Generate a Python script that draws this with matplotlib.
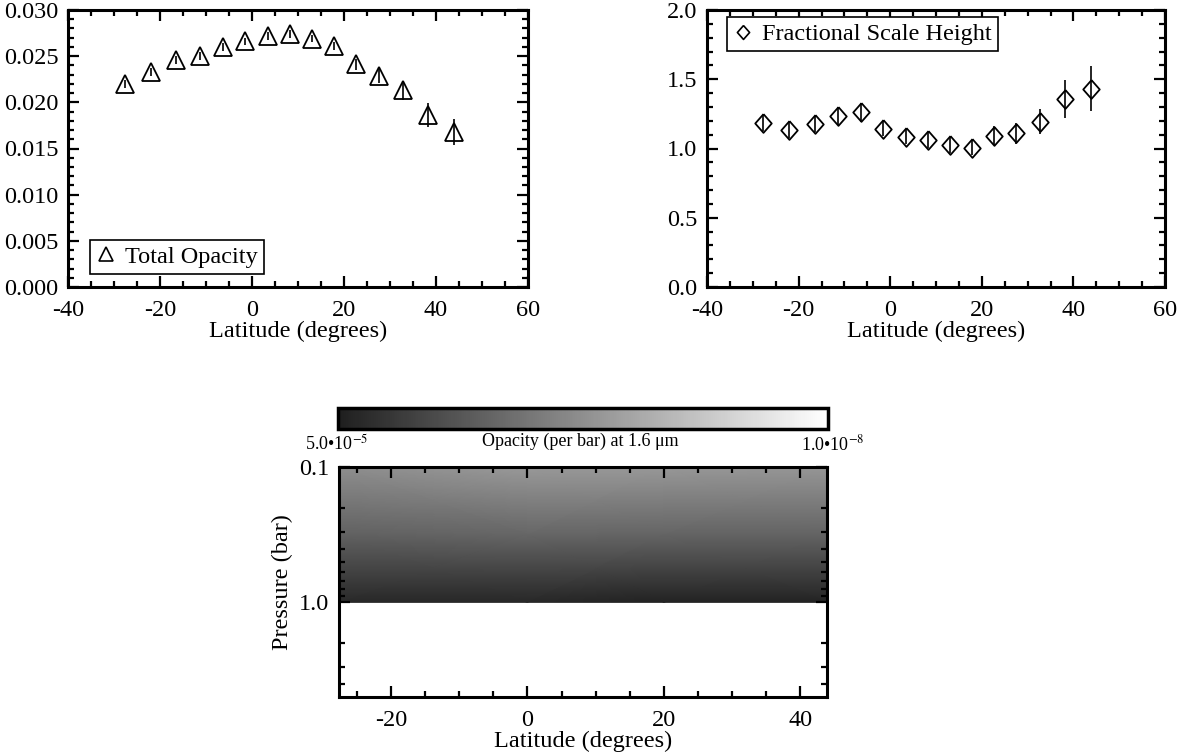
import numpy as np
import matplotlib
matplotlib.use('Agg')
import matplotlib.pyplot as plt
from matplotlib.colors import LogNorm, LinearSegmentedColormap
from matplotlib.ticker import MultipleLocator, FixedLocator, NullFormatter
from matplotlib.lines import Line2D

plt.rcParams['font.family'] = ['Liberation Serif', 'DejaVu Serif']
plt.rcParams['mathtext.fontset'] = 'stix'
plt.rcParams['axes.unicode_minus'] = False

# latitudes of the retrievals
lat = [-27.7, -22.0, -16.5, -11.3, -6.3, -1.5, 3.4, 8.2, 13.0, 17.8, 22.6, 27.5, 32.8, 38.2, 43.9]

# total opacity and its error
opac = [0.0220, 0.0233, 0.0246, 0.0250, 0.0260, 0.0266, 0.0272, 0.0274, 0.0269, 0.0261,
        0.0241, 0.0229, 0.0213, 0.0186, 0.0168]
opac_err = [0.0004, 0.0004, 0.0004, 0.0004, 0.0004, 0.0004, 0.0004, 0.0004, 0.0004, 0.0004,
            0.0006, 0.0008, 0.0010, 0.0013, 0.0014]

# fractional scale height and its error
fsh = [1.181, 1.132, 1.176, 1.237, 1.262, 1.142, 1.086, 1.059, 1.022, 1.007,
       1.093, 1.110, 1.193, 1.359, 1.433]
fsh_err = [0.055, 0.055, 0.06, 0.065, 0.07, 0.055, 0.055, 0.055, 0.055, 0.055,
           0.07, 0.075, 0.09, 0.138, 0.165]

# opacity per bar map (coarse grid)
img_lat = [-27.6, 0.0, 20.0, 43.9]
img_pres = [0.1, 0.316, 1.0]
img_op_01 = [7.1e-7, 4.8e-7, 5.0e-7, 5.3e-7]
img_op_03 = [4.0e-6, 3.3e-6, 3.5e-6, 3.7e-6]
img_op_10 = [3.4e-5, 3.7e-5, 4.3e-5, 4.1e-5]

W, H = 1190, 756
FS = 17.5
fig = plt.figure(figsize=(W / 100, H / 100), dpi=100)

diamond = [(0, 1), (0.88, 0), (0, -1), (-0.88, 0), (0, 1)]


def box(x0, y0, x1, y1):
    return [x0 / W, 1 - y1 / H, (x1 - x0) / W, (y1 - y0) / H]


def style(ax):
    for s in ax.spines.values():
        s.set_linewidth(2.2)
    ax.tick_params(which='both', direction='in', top=True, right=True, width=1.6,
                   labelsize=FS, pad=7)
    ax.tick_params(axis='x', which='both', pad=9)
    ax.tick_params(which='major', length=8)
    ax.tick_params(which='minor', length=4)


def add_legend(ax, handle, text, **kw):
    leg = ax.legend([handle], [text], borderaxespad=0, fontsize=FS, fancybox=False,
                    edgecolor='black', framealpha=1, handlelength=0.8,
                    handletextpad=0.4, borderpad=0.25, **kw)
    leg.get_frame().set_linewidth(1.2)


# top left: total opacity
ax1 = fig.add_axes(box(68, 10, 528, 287))
ax1.errorbar(lat, opac, yerr=opac_err, fmt='^', ms=13, mfc='none', mec='black', mew=1.3,
             ecolor='black', elinewidth=1.2, capsize=0)
ax1.set_xlim(-40, 60)
ax1.set_ylim(0, 0.030)
ax1.xaxis.set_major_locator(MultipleLocator(20))
ax1.xaxis.set_minor_locator(MultipleLocator(5))
ax1.yaxis.set_major_locator(MultipleLocator(0.005))
ax1.yaxis.set_minor_locator(MultipleLocator(0.001))
ax1.yaxis.set_major_formatter(matplotlib.ticker.FormatStrFormatter('%.3f'))
style(ax1)
ax1.set_xlabel('Latitude (degrees)', fontsize=FS, labelpad=0)
add_legend(ax1, Line2D([], [], ls='none', marker='^', ms=10, mfc='none', mec='black', mew=1.2),
           'Total Opacity', loc='lower left', bbox_to_anchor=(0.048, 0.047))

# top right: fractional scale height
ax2 = fig.add_axes(box(707, 10, 1165, 287))
ax2.errorbar(lat, fsh, yerr=fsh_err, fmt='none', ecolor='black', elinewidth=1.2, capsize=0)
ax2.plot(lat, fsh, ls='none', marker=diamond, ms=13.5, mfc='none', mec='black', mew=1.3)
ax2.set_xlim(-40, 60)
ax2.set_ylim(0, 2.0)
ax2.xaxis.set_major_locator(MultipleLocator(20))
ax2.xaxis.set_minor_locator(MultipleLocator(5))
ax2.yaxis.set_major_locator(MultipleLocator(0.5))
ax2.yaxis.set_minor_locator(MultipleLocator(0.1))
ax2.yaxis.set_major_formatter(matplotlib.ticker.FormatStrFormatter('%.1f'))
style(ax2)
ax2.set_xlabel('Latitude (degrees)', fontsize=FS, labelpad=0)
add_legend(ax2, Line2D([], [], ls='none', marker=diamond, ms=10, mfc='none', mec='black', mew=1.2),
           'Fractional Scale Height', loc='upper left', bbox_to_anchor=(0.044, 0.975))

# bottom: opacity map
cmap = LinearSegmentedColormap.from_list('g', [(1, 1, 1), (0.12, 0.12, 0.12)])
norm = LogNorm(vmin=1.0e-8, vmax=5.0e-5)

ax3 = fig.add_axes(box(339, 467, 827, 697))
LL, PP = np.meshgrid(img_lat, img_pres)
grid = np.array([img_op_01, img_op_03, img_op_10])
mesh = ax3.pcolormesh(LL, PP, grid, cmap=cmap, norm=norm, shading='gouraud')
ax3.set_yscale('log')
ax3.set_xlim(-27.6, 43.9)
ax3.set_ylim(5.0, 0.1)
ax3.xaxis.set_major_locator(FixedLocator([-20, 0, 20, 40]))
ax3.xaxis.set_minor_locator(MultipleLocator(5))
ax3.yaxis.set_major_locator(FixedLocator([0.1, 1.0]))
ax3.yaxis.set_major_formatter(matplotlib.ticker.FixedFormatter(['0.1', '1.0']))
ax3.yaxis.set_minor_locator(FixedLocator([0.2, 0.3, 0.4, 0.5, 0.6, 0.7, 0.8, 0.9, 2, 3, 4]))
ax3.yaxis.set_minor_formatter(NullFormatter())
style(ax3)
ax3.set_xlabel('Latitude (degrees)', fontsize=FS, labelpad=0)
ax3.set_ylabel('Pressure (bar)', fontsize=FS, labelpad=4)

cax = fig.add_axes(box(338, 408, 828, 429))
cb = fig.colorbar(mesh, cax=cax, orientation='horizontal')
cax.invert_xaxis()
cax.set_xticks([])
cax.minorticks_off()
cb.outline.set_linewidth(2.5)

fig.text(305 / W, 1 - 444 / H, '5.0•10$^{-5}$', fontsize=13, ha='left', va='center')
fig.text(864 / W, 1 - 444 / H, '1.0•10$^{-8}$', fontsize=13, ha='right', va='center')
fig.text(580 / W, 1 - 441 / H, 'Opacity (per bar) at 1.6 μm', fontsize=13, ha='center', va='center')

fig.savefig('out.png', dpi=100)
